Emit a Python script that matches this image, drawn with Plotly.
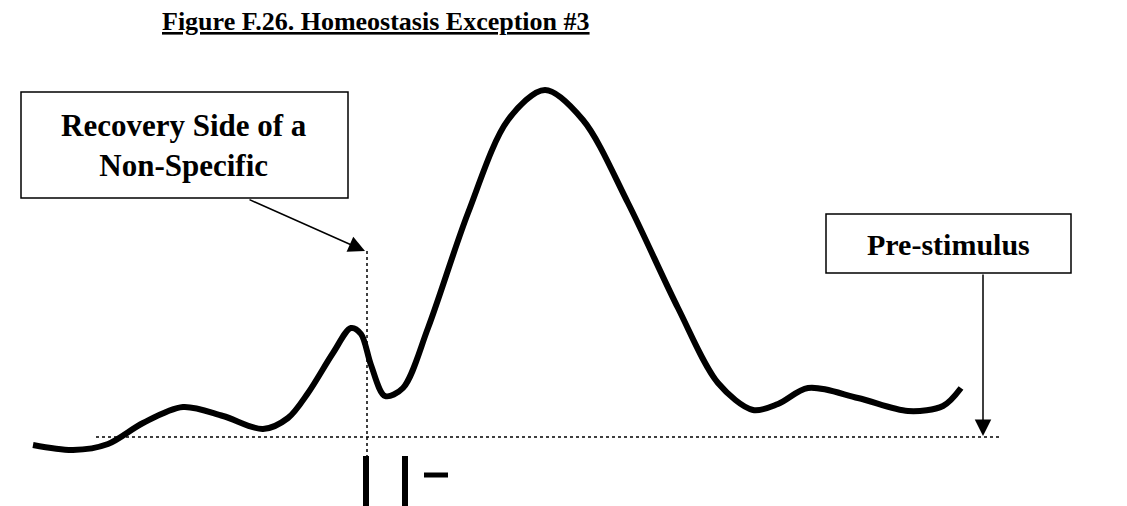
import plotly.graph_objects as go

# curve, in page-like units (x to the right, y downward)
curve_x = [25, 65, 100, 135, 175, 215, 255, 280, 300, 325, 343, 353, 363, 377,
           395, 420, 460, 500, 537, 575, 620, 670, 710, 745, 770, 800, 850,
           900, 935, 953]
curve_y = [437, 442, 436, 415, 399, 408, 421, 410, 385, 345, 320, 326, 357, 388,
           380, 320, 205, 112, 82, 112, 195, 300, 375, 402, 396, 380, 390,
           403, 398, 380]

baseline_x = [88, 992]
baseline_y = [429, 429]

marker_x = [359, 359]
marker_y = [243, 460]

FONT = "Liberation Serif"

fig = go.Figure()

fig.add_trace(go.Scatter(
    x=curve_x, y=curve_y, mode="lines",
    line=dict(color="black", width=6, shape="spline", smoothing=0.9),
    hoverinfo="skip",
))
fig.add_trace(go.Scatter(
    x=baseline_x, y=baseline_y, mode="lines",
    line=dict(color="black", width=1.5, dash="dot"),
    hoverinfo="skip",
))
fig.add_trace(go.Scatter(
    x=marker_x, y=marker_y, mode="lines",
    line=dict(color="black", width=1.5, dash="dot"),
    hoverinfo="skip",
))

# boxes
fig.add_shape(type="rect", x0=13, x1=340, y0=84, y1=190,
              line=dict(color="black", width=1.5), fillcolor="white")
fig.add_shape(type="rect", x0=818, x1=1063, y0=206, y1=265,
              line=dict(color="black", width=1.5), fillcolor="white")

# bars at the bottom
fig.add_shape(type="line", x0=358, x1=358, y0=448, y1=506,
              line=dict(color="black", width=6))
fig.add_shape(type="line", x0=397, x1=397, y0=448, y1=506,
              line=dict(color="black", width=6))
fig.add_shape(type="line", x0=416, x1=440, y0=467, y1=467,
              line=dict(color="black", width=5))

fig.add_annotation(
    x=176, y=137, text="<b>Recovery Side of a<br>Non-Specific</b>",
    showarrow=False, font=dict(family=FONT, size=31, color="black"),
)
fig.add_annotation(
    x=940, y=236, text="<b>Pre-stimulus</b>",
    showarrow=False, font=dict(family=FONT, size=30, color="black"),
)
fig.add_annotation(
    x=368, y=13, text="<b><u>Figure F.26. Homeostasis Exception #3</u></b>",
    showarrow=False, font=dict(family=FONT, size=26, color="black"),
)

# arrows
fig.add_annotation(
    x=357, y=243, ax=240, ay=191, axref="x", ayref="y", text="",
    showarrow=True, arrowhead=2, arrowsize=2.2, arrowwidth=1.5, arrowcolor="black",
)
fig.add_annotation(
    x=975, y=428, ax=975, ay=265, axref="x", ayref="y", text="",
    showarrow=True, arrowhead=2, arrowsize=2.2, arrowwidth=1.5, arrowcolor="black",
)

fig.update_layout(
    width=1127, height=506,
    margin=dict(l=0, r=0, t=0, b=0),
    paper_bgcolor="white", plot_bgcolor="white",
    showlegend=False,
    xaxis=dict(range=[0, 1127], visible=False, fixedrange=True),
    yaxis=dict(range=[506, 0], visible=False, fixedrange=True),
)

fig.write_html("out.html")
